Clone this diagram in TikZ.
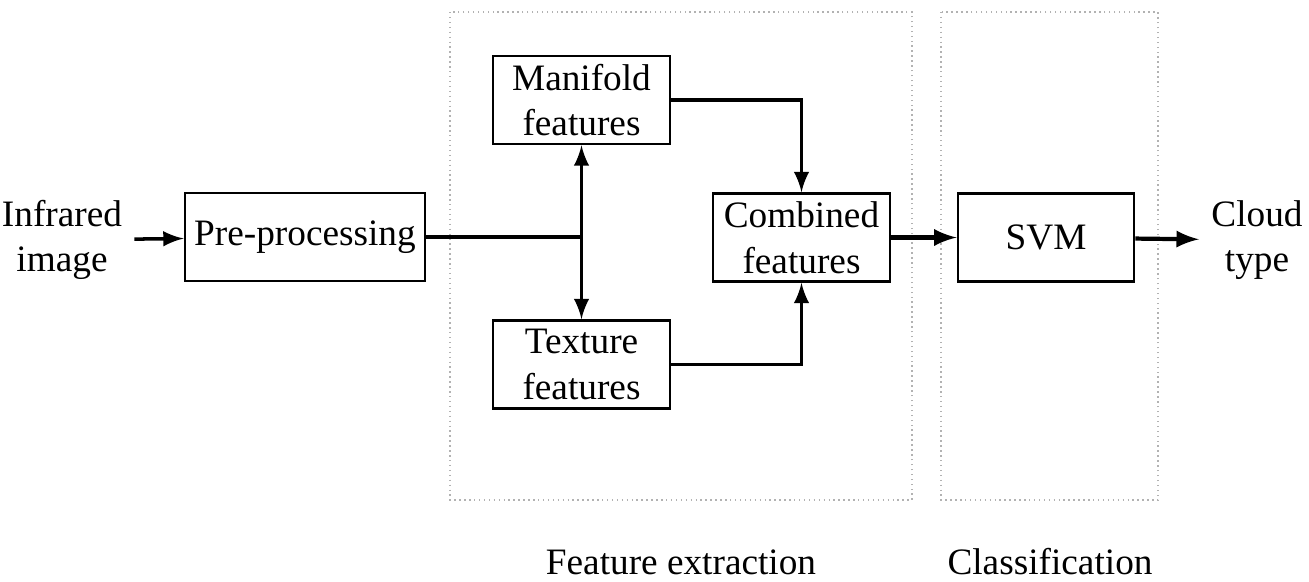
\documentclass[tikz,border=0pt]{standalone}
\usepackage{fontspec}
\setmainfont{Liberation Serif}
\usepackage{tikz}
\usetikzlibrary{arrows}
\usetikzlibrary{calc}

\tikzset{
  blockbox/.style={draw, line width=0.7pt, align=center, inner sep=0pt,
    minimum width=1.77cm, minimum height=0.88cm},
  stagebox/.style={draw=gray!60, densely dotted, line width=0.4pt},
  flow/.style={line width=1pt},
}

\begin{document}
\begin{tikzpicture}[x=0.01cm, y=-0.01cm, >=latex,
    every node/.style={font=\fontsize{10.6}{13}\selectfont}]
  \useasboundingbox (0,0) rectangle (1309,581);

  % processing stages
  \draw [stagebox] (450,12) rectangle (912,500);
  \draw [stagebox] (941,12) rectangle (1158,500);
  \node (FeatLabel) at (681,562) {Feature extraction};
  \node (ClassLabel) at (1050,562) {Classification};

  \node [align=center] (Input) at (62,240) {Infrared\\image};
  \node [blockbox, minimum width=2.40cm] (Prep) at (305,237) {Pre-processing};
  \node [blockbox] (Manifold) at (581.5,100) {Manifold\\features};
  \node [blockbox] (Texture) at (581.5,364.5) {Texture\\features};
  \node [blockbox] (Combined) at (801.5,237.5) {Combined\\features};
  \node [blockbox, minimum width=1.76cm] (SVM) at (1046,237.5) {SVM};
  \node [align=center] (Output) at (1257,240) {Cloud\\type};

  \coordinate (Split) at (Manifold.south |- Prep.east);

  \draw [flow, ->] (Input) -- (Prep);
  \draw [flow] (Prep) -- (Split);
  \draw [flow, ->] (Split) -- (Manifold);
  \draw [flow, ->] (Split) -- (Texture);
  \draw [flow, ->] (Manifold.east) -| (Combined.north);
  \draw [flow, ->] (Texture.east) -| (Combined.south);
  \draw [flow, line width=1.2pt, ->] (Combined) -- (SVM);
  \draw [flow, line width=1.2pt, ->] (SVM) -- (Output);
\end{tikzpicture}
\end{document}
